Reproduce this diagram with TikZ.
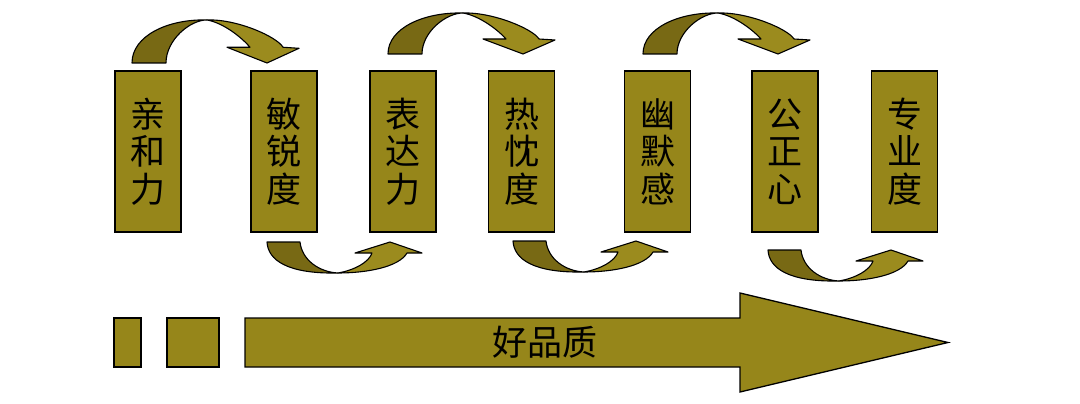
\documentclass[tikz,border=0pt]{standalone}
\usepackage{fontspec}
\newfontfamily\cjk{Noto Sans CJK SC}
\definecolor{olive}{RGB}{150,134,26}
\definecolor{darkol}{RGB}{120,105,20}
\definecolor{lightol}{RGB}{155,139,30}
\tikzset{
  box/.style={draw=black, line width=1.6pt, fill=olive, minimum width=66pt, minimum height=161pt,
    inner sep=0pt, align=center, font=\cjk\fontsize{35}{37.5}\selectfont, text=black},
  band/.style={draw=black, line width=1.1pt, line join=round},
  toparc/.pic={
    \filldraw[band, fill=darkol] (0,0) .. controls (0,-26) and (36,-42) .. (75,-41)
      .. controls (58,-41) and (34,-22) .. (34,0) -- cycle;
    \filldraw[band, fill=lightol] (75,-41) .. controls (105,-42) and (145,-25) .. (151,-15)
      -- (167,-14) -- (135,0) -- (95,-15) -- (118,-15)
      .. controls (110,-24) and (92,-38) .. (75,-41) -- cycle;
  },
  botarc/.pic={
    \filldraw[band, fill=darkol] (0,0) .. controls (1,18) and (20,32) .. (71,31)
      .. controls (52,30) and (35,18) .. (33,0) -- cycle;
    \filldraw[band, fill=lightol] (71,31) .. controls (100,31) and (132,25) .. (140,11)
      -- (155,11) -- (123,0) -- (88,11) -- (105,11)
      .. controls (102,20) and (88,28) .. (71,31) -- cycle;
  }
}
\begin{document}
\begin{tikzpicture}[x=1pt,y=-1pt]
\useasboundingbox[fill=white] (0,0) rectangle (1080,404);
% boxes
\node[box] (b1) at (148,151.5)   {亲\\和\\力};
\node[box] (b2) at (284,151.5)   {敏\\锐\\度};
\node[box] (b3) at (403,151.5)   {表\\达\\力};
\node[box] (b4) at (521.5,151.5) {热\\忱\\度};
\node[box] (b5) at (657.5,151.5) {幽\\默\\感};
\node[box] (b6) at (785,151.5)   {公\\正\\心};
\node[box] (b7) at (904.5,151.5) {专\\业\\度};
% curved arrows
\pic[yscale=1.05] at (132,63) {toparc};
\pic at (388,54) {toparc};
\pic at (643,54) {toparc};
\pic at (267,242) {botarc};
\pic at (513,241) {botarc};
\pic at (768,250) {botarc};
% bottom bar
\filldraw[draw=black, line width=1.3pt, fill=olive] (114,318) rectangle (141,367);
\filldraw[draw=black, line width=1.3pt, fill=olive] (167,318) rectangle (219,367);
\filldraw[draw=black, line width=1.3pt, fill=olive, line join=miter]
  (245,318) -- (740,318) -- (740,293) -- (948,342.5) -- (740,392) -- (740,367) -- (245,367) -- cycle;
\node[font=\cjk\fontsize{35}{37.5}\selectfont, text=black, inner sep=0pt] (q) at (545,342.5) {好品质};
\end{tikzpicture}
\end{document}
